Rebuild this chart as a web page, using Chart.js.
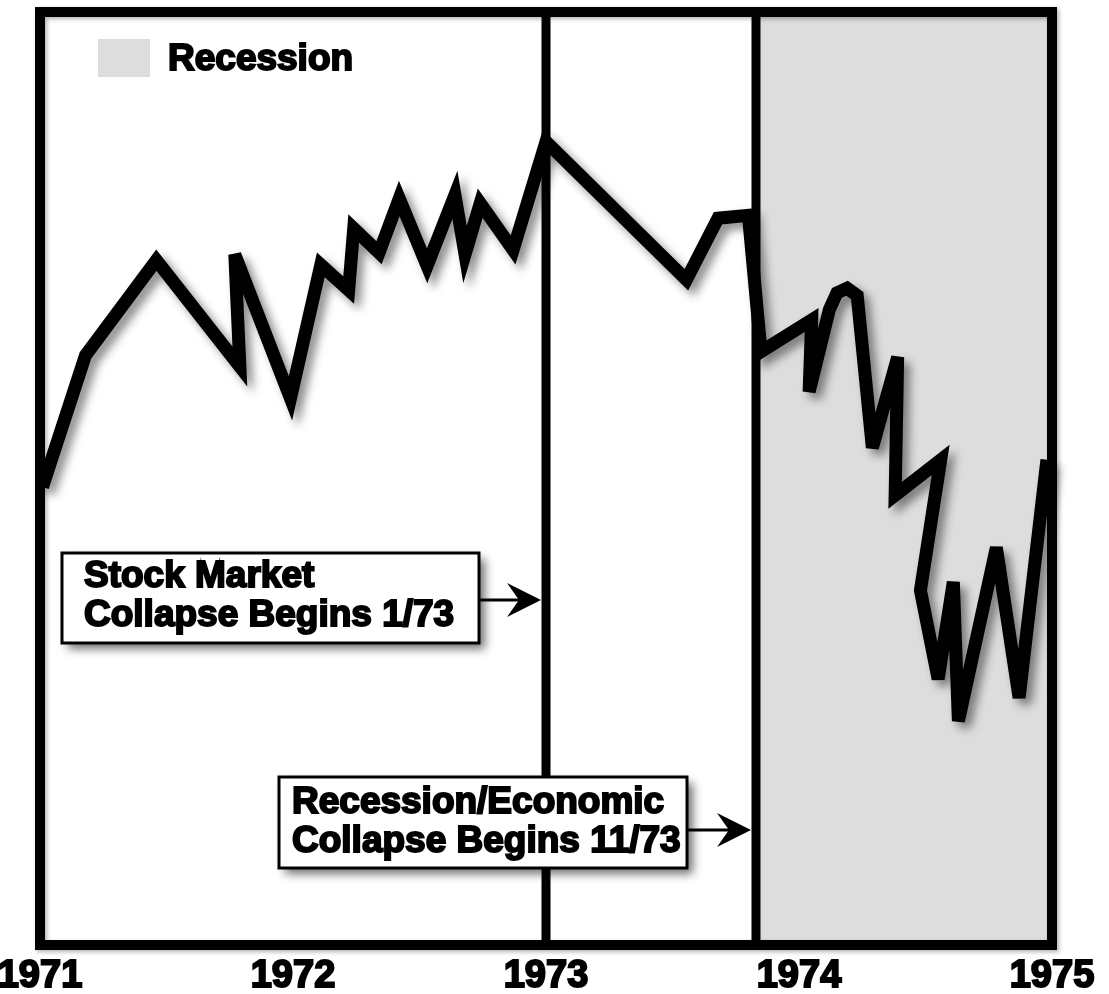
<!DOCTYPE html>
<html>
<head>
<meta charset="utf-8">
<title>Stock market and recession 1971-1975</title>
<script src="https://cdn.jsdelivr.net/npm/chart.js@4.4.0/dist/chart.umd.min.js"></script>
<style>
  html, body { margin: 0; padding: 0; background: #ffffff; }
  #wrap { width: 1109px; height: 994px; position: relative; }
</style>
</head>
<body>
<div id="wrap"><canvas id="market-chart"></canvas></div>
<script>
// Index level (no scale shown, 0-100 = bottom-top of frame)
const dates = [
  1971.01, 1971.18, 1971.46, 1971.79, 1971.77, 1971.99, 1972.11, 1972.22,
  1972.24, 1972.34, 1972.42, 1972.53, 1972.64, 1972.68, 1972.74, 1972.87,
  1973.00, 1973.555, 1973.68, 1973.80, 1973.85, 1974.05, 1974.04, 1974.12,
  1974.15, 1974.19, 1974.23, 1974.29, 1974.39, 1974.38, 1974.56, 1974.48,
  1974.55, 1974.61, 1974.63, 1974.78, 1974.87, 1974.98
];
const indexLevel = [
  49.1, 63.2, 73.4, 62.0, 74.0, 58.6, 72.9, 70.2,
  76.8, 74.2, 80.0, 72.8, 80.4, 74.0, 79.5, 74.5,
  86.1, 71.3, 77.9, 78.2, 63.6, 67.0, 59.3, 68.1,
  69.9, 70.4, 69.6, 53.3, 63.0, 48.2, 52.0, 38.0,
  28.5, 38.9, 24.0, 42.6, 26.5, 52.0
];
const tickYears = [1971, 1972, 1973, 1974, 1975];
const eventDates = [1973.0, 1973.83];      // stock collapse, recession start
const recessionSpan = [1973.83, 1975];
const legendLabel = 'Recession';
const noteLines = [
  ['Stock Market', 'Collapse Begins 1/73'],
  ['Recession/Economic', 'Collapse Begins 11/73']
];

const ink = '#000000';
const shade = '#dddddd';
const heavyFont = '"Liberation Sans", Arial, sans-serif';

// Drop shadow under the price line only
const lineShadow = {
  id: 'lineShadow',
  beforeDatasetDraw(chart, args) {
    if (args.index !== 0) return;
    const ctx = chart.ctx;
    ctx.save();
    ctx.miterLimit = 5;
    ctx.shadowColor = 'rgba(0,0,0,0.45)';
    ctx.shadowBlur = 10;
    ctx.shadowOffsetX = 6;
    ctx.shadowOffsetY = 6;
  },
  afterDatasetDraw(chart, args) {
    if (args.index !== 0) return;
    chart.ctx.restore();
  }
};

// Frame, legend and the two callout boxes
const decorations = {
  id: 'decorations',
  afterDraw(chart, args, opts) {
    const ctx = chart.ctx;
    const area = chart.chartArea;
    const x = chart.scales.x;

    // frame
    ctx.save();
    ctx.shadowColor = 'rgba(0,0,0,0.3)';
    ctx.shadowBlur = 4;
    ctx.shadowOffsetX = 2;
    ctx.shadowOffsetY = 2;
    ctx.strokeStyle = ink;
    ctx.lineWidth = 10;
    ctx.strokeRect(area.left, area.top, area.right - area.left, area.bottom - area.top);
    ctx.restore();

    // legend
    ctx.save();
    ctx.fillStyle = shade;
    ctx.fillRect(98, 39, 52, 38);
    ctx.font = 'bold 37px ' + heavyFont;
    ctx.fillStyle = ink;
    ctx.strokeStyle = ink;
    ctx.lineWidth = 2;
    ctx.fillText(legendLabel, 168, 70);
    ctx.strokeText(legendLabel, 168, 70);
    ctx.restore();

    // callouts
    opts.boxes.forEach((b, i) => {
      ctx.save();
      ctx.shadowColor = 'rgba(0,0,0,0.55)';
      ctx.shadowBlur = 9;
      ctx.shadowOffsetX = 6;
      ctx.shadowOffsetY = 6;
      ctx.fillStyle = '#ffffff';
      ctx.fillRect(b.x, b.y, b.w, b.h);
      ctx.restore();

      ctx.save();
      ctx.strokeStyle = ink;
      ctx.lineWidth = 3;
      ctx.strokeRect(b.x, b.y, b.w, b.h);

      ctx.font = 'bold 37px ' + heavyFont;
      ctx.fillStyle = ink;
      ctx.lineWidth = 2;
      noteLines[i].forEach((t, j) => {
        const by = b.y + b.base[j];
        ctx.fillText(t, b.x + b.pad, by);
        ctx.strokeText(t, b.x + b.pad, by);
      });

      // arrow to the event line
      const ex = x.getPixelForValue(eventDates[i]) - 5;
      const sx = b.x + b.w + 1;
      ctx.lineWidth = 3;
      ctx.beginPath();
      ctx.moveTo(sx, b.arrowY);
      ctx.lineTo(ex - 18, b.arrowY);
      ctx.stroke();
      ctx.beginPath();
      ctx.moveTo(ex, b.arrowY);
      ctx.lineTo(ex - 34, b.arrowY - 17);
      ctx.lineTo(ex - 22, b.arrowY);
      ctx.lineTo(ex - 34, b.arrowY + 17);
      ctx.closePath();
      ctx.fill();
      ctx.restore();
    });
  }
};

const datasets = [
  {
    label: 'Stock market',
    data: dates.map((d, i) => ({ x: d, y: indexLevel[i] })),
    borderColor: ink,
    borderWidth: 13,
    borderJoinStyle: 'miter',
    borderCapStyle: 'butt',
    pointRadius: 0,
    tension: 0,
    fill: false,
    clip: false
  },
  ...eventDates.map(d => ({
    label: 'event',
    data: [{ x: d, y: 0 }, { x: d, y: 100 }],
    borderColor: ink,
    borderWidth: 9,
    pointRadius: 0,
    fill: false
  })),
  {
    label: legendLabel,
    data: recessionSpan.map(d => ({ x: d, y: 100 })),
    borderWidth: 0,
    borderColor: 'rgba(0,0,0,0)',
    backgroundColor: shade,
    pointRadius: 0,
    fill: 'origin'
  }
];

new Chart(document.getElementById('market-chart'), {
  type: 'line',
  data: { datasets: datasets },
  options: {
    responsive: true,
    maintainAspectRatio: false,
    animation: false,
    layout: { padding: { left: 40, right: 57, top: 12, bottom: 0 } },
    plugins: {
      legend: { display: false },
      tooltip: { enabled: false },
      decorations: {
        boxes: [
          { x: 62, y: 553, w: 417, h: 90, pad: 22, base: [34, 73], arrowY: 600 },
          { x: 279, y: 777, w: 408, h: 91, pad: 13, base: [36, 75], arrowY: 830 }
        ]
      }
    },
    scales: {
      x: {
        type: 'linear',
        min: 1971,
        max: 1975,
        grid: { display: false, drawTicks: false },
        border: { display: false },
        afterBuildTicks: (axis) => { axis.ticks = tickYears.map(v => ({ value: v })); },
        afterFit: (axis) => {
          axis.paddingLeft = 0;
          axis.paddingRight = 0;
          axis.height = 49;
        },
        ticks: {
          autoSkip: false,
          maxRotation: 0,
          padding: 13,
          color: ink,
          textStrokeColor: ink,
          textStrokeWidth: 2,
          font: { family: heavyFont, size: 38, weight: 'bold', lineHeight: 1 },
          callback: (v) => String(v)
        }
      },
      y: {
        display: false,
        min: 0,
        max: 100
      }
    }
  },
  plugins: [lineShadow, decorations]
});
</script>
</body>
</html>
